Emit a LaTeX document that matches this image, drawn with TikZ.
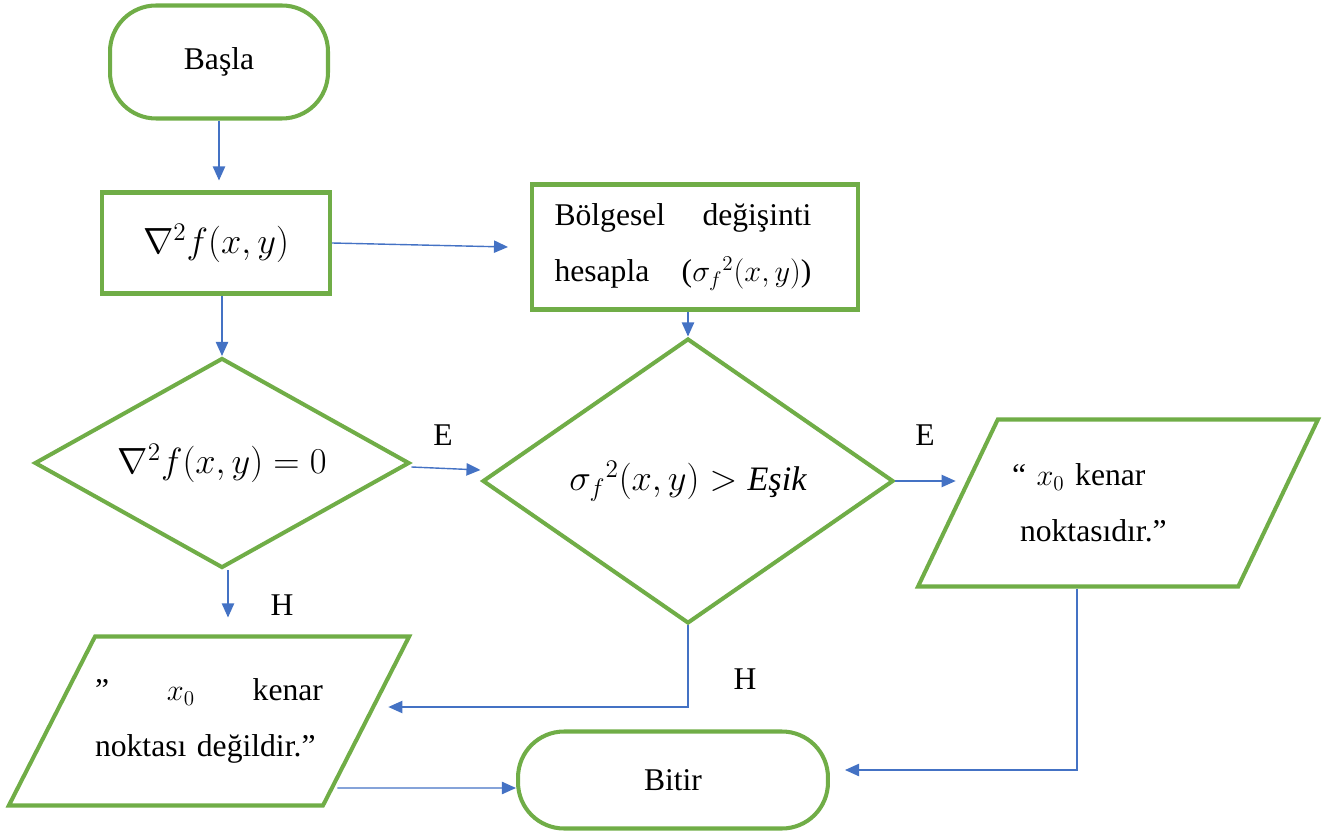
\documentclass[tikz,border=0pt]{standalone}
\usepackage{fontspec}
\setmainfont{Liberation Serif}
\usetikzlibrary{arrows.meta, shapes.geometric, calc}
\definecolor{leaf}{HTML}{70AD47}
\definecolor{link}{HTML}{4472C4}
\newcommand{\chartfont}{\fontsize{18}{32}\selectfont}
\newcommand{\mathsize}{\fontsize{19.5}{32}\selectfont}
\tikzset{
  term/.style={rounded corners=0.92cm, draw=leaf, line width=2.3pt,
               align=center, inner sep=0pt, font=\chartfont},
  proc/.style={draw=leaf, line width=2.3pt, align=center, inner sep=0pt,
               font=\chartfont},
  dec/.style={diamond, shape aspect=1.8, draw=leaf, line width=2.3pt, inner sep=0pt,
              align=center, font=\mathsize},
  io/.style={trapezium, trapezium left angle=44.6, trapezium right angle=135.4,
             trapezium stretches body, draw=leaf, line width=2.3pt,
             inner sep=0pt, font=\chartfont},
  lbl/.style={font=\chartfont, inner sep=0pt},
  fl/.style={-{Triangle[length=8pt, width=7pt]}, line width=0.8pt, draw=link},
}

\begin{document}
\begin{tikzpicture}[x=0.02cm, y=-0.02cm]
  \useasboundingbox (0,0) rectangle (1326,831);
  \node[term, minimum width=4.36cm, minimum height=2.26cm] (start) at (219,62) {Başla};
  \node[proc, minimum width=4.56cm, minimum height=2.02cm, font=\mathsize] (lap) at (216,243) {$\nabla^2 f(x,y)$};
  \node[proc, minimum width=6.52cm, minimum height=2.5cm, text width=5.62cm, align=left] (var) at (695,247)
    {Bölgesel\hfill değişinti\hspace*{0.48cm}\mbox{}\\hesapla\hfill($\sigma_f{}^2(x,y)$)\hspace*{0.48cm}\mbox{}};
  \node[dec, minimum width=7.5cm, minimum height=4.2cm] (zero) at (222,463) {$\nabla^2 f(x,y) = 0$};
  \node[dec, minimum width=8.22cm, minimum height=5.7cm] (thr) at (688,481) {$\sigma_f{}^2(x,y) > \textit{Eşik}$};
  \node[io, minimum width=8cm, minimum height=3.34cm, text width=4.24cm, align=left] (edge) at (1118,503)
    {“ $x_0$ kenar\\\hspace*{0.16cm}noktasıdır.”};
  \node[io, minimum width=7.96cm, minimum height=3.38cm, text width=4.56cm, align=left] (noedge) at (209,721)
    {”\hfill$x_0$\hfill kenar\\noktası değildir.”};
  \node[term, minimum width=6.2cm, minimum height=1.94cm] (stop) at (673,780) {Bitir};

  \node[lbl] (e1) at (443,435) {E};
  \node[lbl] (e2) at (925,435) {E};
  \node[lbl] (h1) at (282,605) {H};
  \node[lbl] (h2) at (745,679) {H};

  \draw[fl] (start.south) -- ([yshift=0.2cm]start.south |- lap.north);
  \draw[fl] (lap.east) -- ([xshift=-0.44cm]var.west);
  \draw[fl] (zero.north |- lap.south) -- (zero.north);
  \draw[fl] (thr.north |- var.south) -- (thr.north);
  \draw[fl] ([yshift=-0.08cm]zero.east) -- ([yshift=0.22cm]thr.west);
  \draw[fl] (thr.east) -- (thr.east -| edge.west);
  \draw[fl] (edge.bottom side) |- ([xshift=0.3cm, yshift=0.2cm]stop.east);
  \draw[fl] ([xshift=0.12cm]zero.south) -- ([xshift=0.12cm, yshift=0.34cm]noedge.north -| zero.south);
  \draw[fl] (thr.south) |- ([xshift=0.4cm, yshift=0.28cm]noedge.east);
  \draw[fl] ([xshift=-0.62cm, yshift=-1.34cm]noedge.east) -- ([yshift=-0.16cm]stop.west);
\end{tikzpicture}
\end{document}
